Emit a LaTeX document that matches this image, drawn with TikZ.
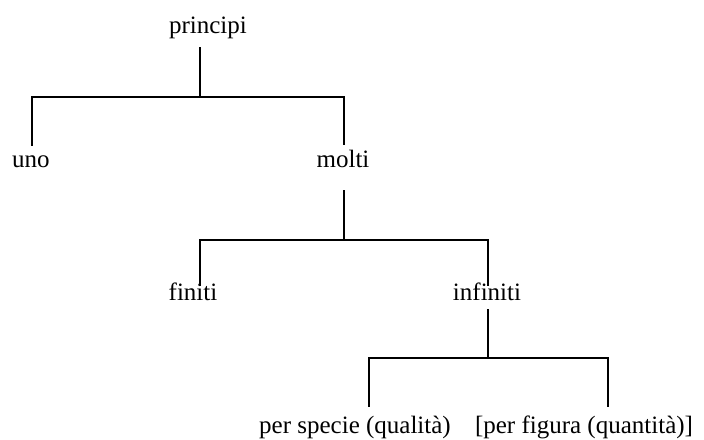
\documentclass[tikz,border=0pt]{standalone}
\usepackage{fontspec}
\setmainfont{Liberation Serif}
\begin{document}
\begin{tikzpicture}[x=1pt, y={(0pt,-1pt)},
  label/.style={anchor=base, inner sep=0pt, font=\fontsize{25}{30}\selectfont},
  branch/.style={draw=black, line width=2pt, line cap=rect}]
\useasboundingbox (0,0) rectangle (704,439);

% labels
\node[label] (principi) at (208,33) {principi};
\node[label] (uno)      at (31,167) {uno};
\node[label] (molti)    at (343,167) {molti};
\node[label] (finiti)   at (193,300) {finiti};
\node[label] (infiniti) at (487,300) {infiniti};
\node[label] (specie)   at (355,433) {per specie (qualità)};
\node[label] (figura)   at (584,433) {[per figura (quantità)]};

% junction points of the tree
\coordinate (p-top) at (200,48);  \coordinate (p-mid) at (200,97);
\coordinate (p-l)   at (32,97);   \coordinate (p-r)   at (344,97);
\coordinate (uno-t) at (32,145);  \coordinate (molti-t) at (344,144);

\coordinate (m-top) at (344,191); \coordinate (m-mid) at (344,240);
\coordinate (m-l)   at (200,240); \coordinate (m-r)   at (488,240);
\coordinate (fin-t) at (200,285); \coordinate (inf-t) at (488,285);

\coordinate (i-top) at (488,310); \coordinate (i-mid) at (488,358);
\coordinate (i-l)   at (369,358); \coordinate (i-r)   at (608,358);
\coordinate (spe-t) at (369,406); \coordinate (fig-t) at (608,406);

% branches
\draw[branch] (p-top) -- (p-mid);
\draw[branch] (uno-t) -- (p-l) -- (p-r) -- (molti-t);
\draw[branch] (m-top) -- (m-mid);
\draw[branch] (fin-t) -- (m-l) -- (m-r) -- (inf-t);
\draw[branch] (i-top) -- (i-mid);
\draw[branch] (spe-t) -- (i-l) -- (i-r) -- (fig-t);
\end{tikzpicture}
\end{document}
